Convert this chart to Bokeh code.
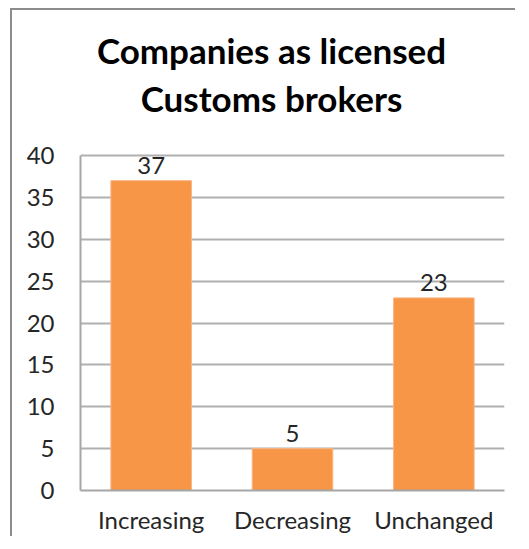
from bokeh.plotting import figure
from bokeh.models import ColumnDataSource, LabelSet, Range1d, FactorRange, SingleIntervalTicker, Label
from bokeh.core.properties import value
from bokeh.embed import file_html
from bokeh.resources import INLINE

categories = ["Increasing", "Decreasing", "Unchanged"]
values = [37, 5, 23]
value_labels = [str(v) for v in values]
title_lines = ["Companies as licensed", "Customs brokers"]
y_axis_max = 40

source = ColumnDataSource(dict(cat=categories, val=values, lab=value_labels))

# frame runs up to the top of the canvas so the title can sit inside it;
# axis and grid are bounded to 0..40
frame_px = 480
axis_px = 335
p = figure(
    x_range=FactorRange(*categories, range_padding=0),
    y_range=Range1d(0, y_axis_max * frame_px / axis_px),
    width=505, height=528,
    output_backend="svg", toolbar_location=None,
    min_border_left=68, min_border_right=13,
    min_border_top=0, min_border_bottom=48,
    title=None,
)
p.styles = {"border-left": "2px solid #8c8c8c", "border-top": "2px solid #8c8c8c",
            "margin-left": "10px", "margin-top": "8px"}

for line, sy in zip(title_lines, [441, 393]):
    p.add_layout(Label(x=191, y=sy, x_units="screen", y_units="screen", text=line,
                       text_align="center", text_baseline="middle",
                       text_font="Lato", text_font_size="35px",
                       text_font_style="bold", text_color="#000000"))

p.vbar(x="cat", top="val", width=0.57, source=source, fill_color="#F79646", line_color="#FAB584", line_width=1)

labels = LabelSet(x="cat", y="val", text="lab", source=source, text_align="center",
                  text_baseline="bottom", y_offset=7, text_font=value("Lato"),
                  text_font_size="24px", text_color="#262626")
p.add_layout(labels)

p.yaxis.ticker = SingleIntervalTicker(interval=5)
p.yaxis.bounds = (0, y_axis_max)
for ax in (p.xaxis, p.yaxis):
    ax.axis_line_color = "#a6a6a6"
    ax.axis_line_width = 2
    ax.major_tick_line_color = None
    ax.minor_tick_line_color = None
    ax.major_tick_out = 0
    ax.major_tick_in = 0
    ax.major_label_text_font = "Lato"
    ax.major_label_text_font_size = "24px"
    ax.major_label_text_color = "#262626"
p.yaxis.major_label_standoff = 22
p.xaxis.major_label_standoff = 14

p.xgrid.grid_line_color = None
p.ygrid.grid_line_color = "#b0b0b0"
p.ygrid.grid_line_width = 2
p.ygrid.bounds = (0, y_axis_max)
p.outline_line_color = None
p.background_fill_color = "white"
p.border_fill_color = "white"

open("out.html", "w").write(file_html(p, INLINE))
